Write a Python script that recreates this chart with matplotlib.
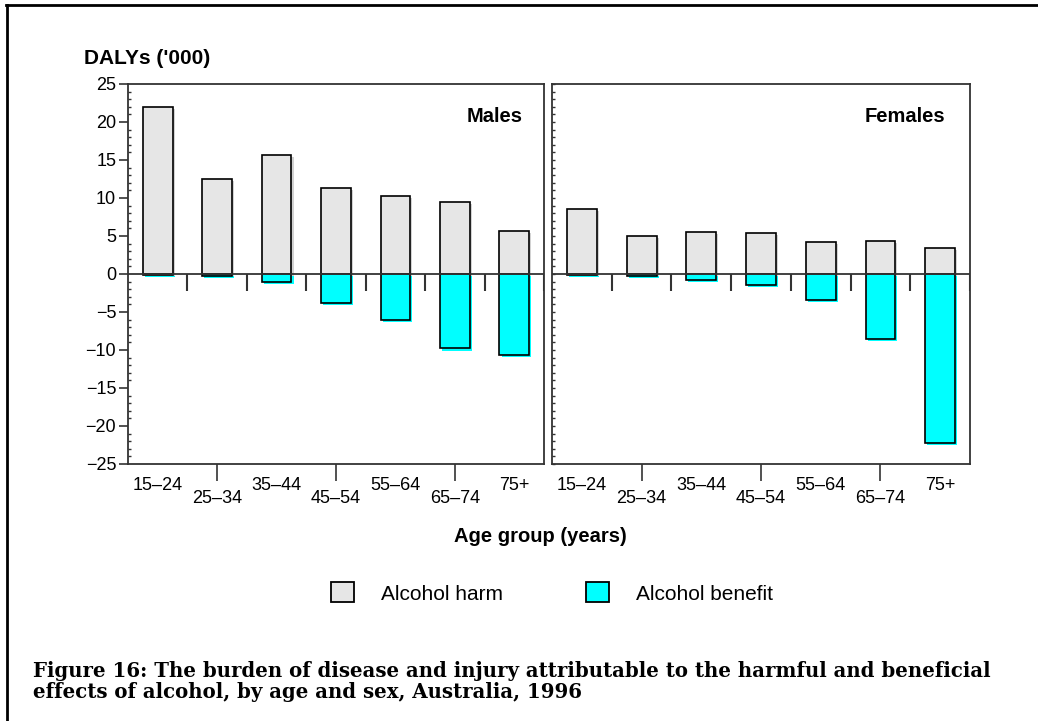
import matplotlib
matplotlib.use("Agg")
import matplotlib.pyplot as plt
import matplotlib.patheffects as pe
from matplotlib.lines import Line2D
from matplotlib.patches import Patch
from matplotlib.ticker import MultipleLocator
import numpy as np

age_groups = ["15–24", "25–34", "35–44", "45–54", "55–64", "65–74", "75+"]
male_harm = [22.0, 12.5, 15.7, 11.3, 10.3, 9.5, 5.7]
male_benefit = [-0.1, -0.3, -1.1, -3.8, -6.0, -9.8, -10.6]
female_harm = [8.6, 5.0, 5.5, 5.4, 4.2, 4.3, 3.4]
female_benefit = [-0.1, -0.2, -0.8, -1.4, -3.4, -8.5, -22.2]
yticks = list(range(-25, 26, 5))
caption = ["Figure 16: The burden of disease and injury attributable to the harmful and beneficial",
           "effects of alcohol, by age and sex, Australia, 1996"]

plt.rcParams['font.family'] = ['Liberation Sans', 'DejaVu Sans']

W, H = 1038, 721
fig = plt.figure(figsize=(W / 100, H / 100), dpi=100)


def fx(px):
    return px / W


def fy(py):
    return 1 - py / H


GRAY = '#e6e6e6'
CYAN = '#00ffff'
SPINE = '#333333'


def panel(left, right, harm, benefit, name, name_x, first):
    ax = fig.add_axes([fx(left), fy(464), fx(right - left), (464 - 84) / H])
    x = np.arange(len(age_groups)) + 0.5
    for vals, col, sh in [(harm, GRAY, '#d2d2d2'), (benefit, CYAN, CYAN)]:
        bars = ax.bar(x, vals, width=0.5, color=col, edgecolor='black',
                      linewidth=1.2, zorder=3)
        for b in bars:
            b.set_path_effects([pe.SimplePatchShadow(offset=(1.5, -1.5), shadow_rgbFace=sh, alpha=1),
                                pe.Normal()])
    ax.axhline(0, color=SPINE, lw=1.3, zorder=4)
    ax.vlines(np.arange(1, len(age_groups) + 1), -2.2, 0, color=SPINE, lw=1.5, zorder=4)
    ax.set_xlim(0, len(age_groups))
    ax.set_ylim(-25, 25)
    ax.set_xticks(x[::2], age_groups[::2])
    ax.set_xticks(x[1::2], age_groups[1::2], minor=True)
    ax.tick_params(axis='x', which='major', length=0, pad=9.5, labelsize=13)
    ax.tick_params(axis='x', which='minor', length=12, width=1.2, pad=6.5, labelsize=13,
                   color=SPINE)
    ax.set_yticks(yticks)
    ax.yaxis.set_minor_locator(MultipleLocator(1))
    if first:
        ax.tick_params(axis='y', which='major', direction='out', length=6.5, width=1.2,
                       labelsize=13, pad=2, color=SPINE)
    else:
        ax.tick_params(axis='y', which='major', direction='in', length=2.5, width=1,
                       labelleft=False, color=SPINE)
    ax.tick_params(axis='y', which='minor', direction='in', length=2.5, width=1, color=SPINE)
    for s in ax.spines.values():
        s.set_color(SPINE)
        s.set_linewidth(1.3)
    fig.text(fx(name_x), fy(116), name, ha='right', va='center', weight='bold', size=14.5)
    return ax


panel(128, 544, male_harm, male_benefit, "Males", 523, True)
panel(552, 970, female_harm, female_benefit, "Females", 945, False)

fig.text(fx(84), fy(58), "DALYs ('000)", ha='left', va='center', weight='bold', size=15)
fig.text(fx(540), fy(537), "Age group (years)", ha='center', va='center', weight='bold', size=14.5)

handles = [Patch(facecolor=GRAY, edgecolor='black', linewidth=1.3, label='Alcohol harm'),
           Patch(facecolor=CYAN, edgecolor='black', linewidth=1.3, label='Alcohol benefit')]
fig.legend(handles=handles, loc='center', bbox_to_anchor=(fx(552), fy(593)), ncol=2,
           frameon=False, fontsize=15, handlelength=1.1, handleheight=1.1,
           handletextpad=1.3, columnspacing=4.0)

for i, line in enumerate(caption):
    fig.text(fx(33), fy(671 + 21 * i), line, ha='left', va='center', weight='bold',
             size=14.2, family='DejaVu Serif')

# page frame (cut off at right and bottom)
fig.add_artist(Line2D([fx(6), fx(W)], [fy(5), fy(5)], transform=fig.transFigure,
                      color='black', lw=2))
fig.add_artist(Line2D([fx(7), fx(7)], [fy(5), fy(H)], transform=fig.transFigure,
                      color='black', lw=2))

fig.savefig('out.png', dpi=100)
